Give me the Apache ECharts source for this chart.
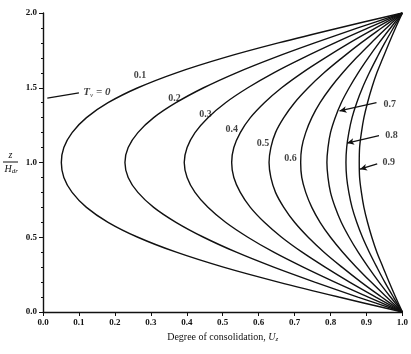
<!DOCTYPE html>
<html><head><meta charset="utf-8">
<script src="https://cdn.jsdelivr.net/npm/echarts@6/dist/echarts.min.js"></script>
<style>html,body{margin:0;padding:0;background:#fff}#c{width:411px;height:354px}</style>
</head><body><div id="c"></div>
<script>
// depth ratio z/Hdr
const zVals = [0,0.1,0.2,0.3,0.4,0.5,0.6,0.7,0.8,0.9,1.0,1.1,1.2,1.3,1.4,1.5,1.6,1.7,1.8,1.9,2.0];
// degree of consolidation Uz for each time factor Tv
const tvNames = ['0.1','0.2','0.3','0.4','0.5','0.6','0.7','0.8','0.9'];
const u01 = [1,0.823,0.655,0.502,0.371,0.264,0.181,0.121,0.081,0.058,0.051,0.058,0.081,0.121,0.181,0.264,0.371,0.502,0.655,0.823,1];
const u02 = [1,0.876,0.756,0.642,0.538,0.447,0.370,0.308,0.264,0.237,0.228,0.237,0.264,0.308,0.370,0.447,0.538,0.642,0.756,0.876,1];
const u03 = [1,0.905,0.812,0.724,0.642,0.570,0.508,0.459,0.423,0.401,0.393,0.401,0.423,0.459,0.508,0.570,0.642,0.724,0.812,0.905,1];
const u04 = [1,0.926,0.853,0.785,0.721,0.664,0.616,0.577,0.549,0.531,0.525,0.531,0.549,0.577,0.616,0.664,0.721,0.785,0.853,0.926,1];
const u05 = [1,0.942,0.885,0.832,0.782,0.738,0.700,0.670,0.647,0.634,0.629,0.634,0.647,0.670,0.700,0.738,0.782,0.832,0.885,0.942,1];
const u06 = [1,0.956,0.913,0.872,0.834,0.800,0.771,0.748,0.731,0.720,0.717,0.720,0.731,0.748,0.771,0.800,0.834,0.872,0.913,0.956,1];
const u07 = [1,0.967,0.935,0.905,0.877,0.852,0.830,0.813,0.800,0.793,0.790,0.793,0.800,0.813,0.830,0.852,0.877,0.905,0.935,0.967,1];
const u08 = [1,0.975,0.951,0.929,0.908,0.889,0.873,0.860,0.851,0.845,0.843,0.845,0.851,0.860,0.873,0.889,0.908,0.929,0.951,0.975,1];
const u09 = [1,0.981,0.963,0.946,0.929,0.915,0.903,0.893,0.886,0.881,0.880,0.881,0.886,0.893,0.903,0.915,0.929,0.946,0.963,0.981,1];
const curves = [u01,u02,u03,u04,u05,u06,u07,u08,u09];
const xTicks = ['0.0','0.1','0.2','0.3','0.4','0.5','0.6','0.7','0.8','0.9','1.0'];
const yTicks = ['0.0','0.5','1.0','1.5','2.0'];

// annotation anchors (data coords)
const labelPos = [[0.27,1.585],[0.366,1.43],[0.452,1.32],[0.525,1.22],[0.612,1.13],[0.689,1.03],[0.965,1.39],[0.970,1.18],[0.962,1.0]];
const arrows = [[[0.928,1.40],[0.825,1.345]],[[0.935,1.18],[0.846,1.13]],[[0.930,0.99],[0.882,0.955]]];
const tv0Label = [0.15,1.47];
const tv0Line = [[0.012,1.43],[0.10,1.465]];

const font = 'Liberation Serif';
const chart = echarts.init(document.getElementById('c'));
const series = curves.map((u,i)=>({
  type:'line', name:tvNames[i], data:u.map((v,j)=>[v,zVals[j]]),
  smooth:0.35, symbol:'none', lineStyle:{color:'#111',width:1.4}, silent:true
}));
series.push({
  type:'scatter', symbolSize:0, silent:true,
  data: labelPos.map((p,i)=>({value:p, label:{show:true, formatter:tvNames[i]}})),
  label:{position:'inside', color:'#111', fontFamily:font, fontSize:10, fontWeight:'bold'}
});
series.push({
  type:'scatter', symbolSize:0, silent:true,
  data:[{value:tv0Label}],
  label:{show:true, position:'inside', formatter:'{t|T}{s|v}{t| = 0}',
    rich:{t:{fontFamily:font,fontSize:11,fontStyle:'italic',fontWeight:'bold',color:'#111'},
          s:{fontFamily:font,fontSize:7,fontStyle:'italic',color:'#111',padding:[5,0,0,0]}}}
});
series.push({
  type:'line', data:tv0Line, symbol:'none', lineStyle:{color:'#111',width:1.3}, silent:true,
  markLine:{silent:true, symbol:['none','arrow'], symbolSize:[5,7], label:{show:false},
    lineStyle:{color:'#111',width:1.3,type:'solid'},
    data: arrows.map(a=>[{coord:a[0]},{coord:a[1]}])}
});

chart.setOption({
  animation:false,
  grid:{left:41,right:5,top:13,bottom:42},
  xAxis:{type:'value',min:0,max:1,interval:0.1,
    name:'{n|Degree of consolidation, }{i|U}{s|z}', nameLocation:'middle', nameGap:20,
    nameTextStyle:{rich:{n:{fontFamily:font,fontSize:10,color:'#111'},
      i:{fontFamily:font,fontSize:10,fontStyle:'italic',color:'#111'},
      s:{fontFamily:font,fontSize:7,fontStyle:'italic',color:'#111',padding:[4,0,0,0]}}},
    axisLine:{lineStyle:{color:'#111',width:1.4}},
    axisTick:{lineStyle:{color:'#111'},length:4},
    splitLine:{show:false},
    axisLabel:{color:'#111',fontFamily:font,fontSize:9,fontWeight:'bold',margin:6,
      formatter:(v)=>xTicks[Math.round(v*10)]}
  },
  yAxis:{type:'value',min:0,max:2,interval:0.5,
    name:'{z|z}\n{b|}\n{h|H}{d|dr}', nameLocation:'middle', nameGap:25, nameRotate:0,
    nameTextStyle:{rich:{z:{fontFamily:font,fontSize:10,fontStyle:'italic',color:'#111',align:'center',lineHeight:10},
      b:{width:15,height:1,backgroundColor:'#111',lineHeight:3},
      h:{fontFamily:font,fontSize:10,fontStyle:'italic',color:'#111',lineHeight:11},
      d:{fontFamily:font,fontSize:7,fontStyle:'italic',color:'#111',padding:[4,0,0,0]}}},
    axisLine:{show:true,lineStyle:{color:'#111',width:1.4}},
    axisTick:{show:true,lineStyle:{color:'#111'},length:4},
    minorTick:{show:true,splitNumber:5,length:2,lineStyle:{color:'#111'}},
    splitLine:{show:false},
    axisLabel:{color:'#111',fontFamily:font,fontSize:9,fontWeight:'bold',margin:6,
      formatter:(v)=>yTicks[Math.round(v*2)]}
  },
  series:series
});
</script></body></html>
